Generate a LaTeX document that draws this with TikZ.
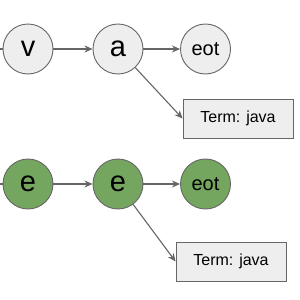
\documentclass[tikz,border=0pt]{standalone}
\usepackage{fontspec}
\setsansfont{Liberation Sans}
\usetikzlibrary{arrows.meta, positioning}
\definecolor{cline}{HTML}{666666}
\definecolor{clight}{HTML}{EEEEEE}
\definecolor{cgreen}{HTML}{74A660}
\tikzset{
  every picture/.style={font=\sffamily, line width=0.9pt, x=1pt, y=-1pt},
  state/.style={circle, draw=cline, fill=#1, minimum size=50pt, inner sep=0pt, font=\sffamily\fontsize{29}{30}\selectfont},
  state/.default=clight,
  term/.style={draw=cline, fill=clight, minimum width=110pt, minimum height=39pt, inner sep=0pt, font=\sffamily\fontsize{16}{18}\selectfont},
  arrow/.style={-{Stealth[length=8pt, width=7pt, inset=2.5pt]}, draw=cline, line width=1.1pt},
}
\begin{document}
\begin{tikzpicture}
  \useasboundingbox[fill=white] (0,0) rectangle (300,300);
  % first branch
  \node[state] (v) at (28, 49) {v};
  \node[state] (a) at (118, 49) {a};
  \node[state, font=\sffamily\fontsize{20}{22}\selectfont] (eot1) at (205.5, 49) {eot};
  \node[term] (t1) at (238, 118.5) {Term: java};
  \coordinate (in1) at (0, 49);
  \draw[draw=cline, line width=1.1pt] (in1) -- (v);
  \draw[arrow] (v) -- (a);
  \draw[arrow] (a) -- (eot1);
  \draw[arrow] (a) -- (t1.west);
  % second branch
  \node[state=cgreen] (e1) at (28, 184) {e};
  \node[state=cgreen] (e2) at (118, 184) {e};
  \node[state=cgreen, font=\sffamily\fontsize{20}{22}\selectfont] (eot2) at (205.5, 184) {eot};
  \node[term] (t2) at (231, 261.5) {Term: java};
  \coordinate (in2) at (0, 184);
  \draw[draw=cline, line width=1.1pt] (in2) -- (e1);
  \draw[arrow] (e1) -- (e2);
  \draw[arrow] (e2) -- (eot2);
  \draw[arrow] (e2) -- (t2.west);
\end{tikzpicture}
\end{document}
